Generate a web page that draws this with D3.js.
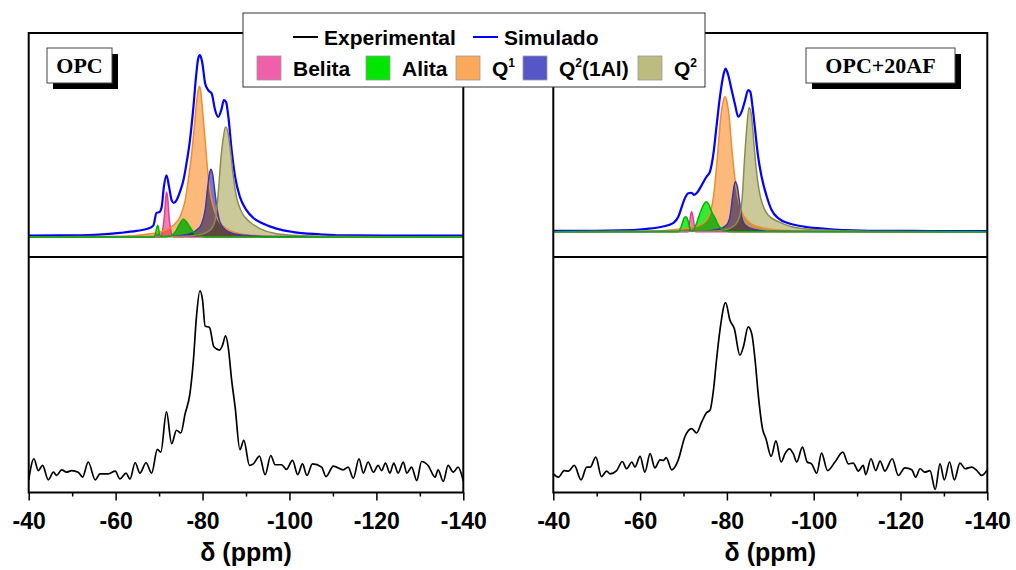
<!DOCTYPE html>
<html>
<head>
<meta charset="utf-8">
<script src="https://cdn.jsdelivr.net/npm/d3@7/dist/d3.min.js"></script>
<style>
  html, body { margin: 0; padding: 0; background: #ffffff; }
  svg { display: block; }
  .tick text { font-family: "Liberation Sans", Arial, sans-serif; font-weight: bold; font-size: 23px; fill: #000; }
</style>
</head>
<body>
<svg id="chart" width="1016" height="570"></svg>
<script>
// 29Si MAS-NMR spectra: OPC and OPC+20AF, deconvolution (top) and experimental (bottom)

const majorTicks = [-40, -60, -80, -100, -120, -140];
const minorTicks = [-50, -70, -90, -110, -130];
const panelNames = ["OPC", "OPC+20AF"];
const axisTitle = "δ (ppm)";
const componentNames = ["Belita", "Alita", "Q1", "Q2(1Al)", "Q2"];
const componentColors = ["#f060a8", "#00e600", "#faa85a", "#5656c6", "#bcbc80"];
const componentEdges = ["#e0408e", "#00b400", "#f08c30", "#3a3aa8", "#8c8c50"];

// ---- OPC: simulated envelope and fitted components [ppm, intensity]
const opcSim = [[-40,0.8],[-51.8,0.9],[-61.0,2.2],[-64.8,3.3],[-67.5,4.6],[-68.7,6.4],[-69.4,13.2],[-70.1,13.7],[-70.6,16.5],[-71.1,27.5],[-71.7,33.9],[-72.3,27.5],[-72.9,20.1],[-73.4,18.7],[-74.0,20.1],[-74.8,24.7],[-75.6,31.1],[-76.3,40.3],[-77.1,53.1],[-77.9,71.4],[-78.5,87.9],[-79.0,98.0],[-79.4,99.8],[-79.9,96.2],[-80.6,84.3],[-81.3,80.6],[-82.1,78.8],[-82.9,69.6],[-83.6,65.9],[-84.4,70.5],[-84.9,75.1],[-85.4,74.2],[-85.9,66.9],[-86.7,47.6],[-87.5,33.0],[-88.6,22.0],[-90.1,14.7],[-91.7,10.4],[-94.0,7.3],[-97.0,4.6],[-100.9,2.7],[-107.0,1.5],[-111.6,0.9],[-122.4,0.8],[-140,0.8]];
const opcBelita = [[-40,0],[-70.2,0],[-70.8,3.6],[-71.2,11.0],[-71.5,20.1],[-71.7,24.7],[-72.0,21.1],[-72.3,11.0],[-72.7,3.6],[-73.3,0],[-140,0]];
const opcAlita = [[-40,0],[-68.7,0],[-69.2,1.8],[-69.4,4.6],[-69.7,6.4],[-69.9,4.6],[-70.2,0.9],[-70.6,0],[-72.5,0.4],[-73.7,2.7],[-74.7,7.0],[-75.6,9.7],[-76.3,8.2],[-77.1,5.5],[-77.9,2.7],[-79.0,0.9],[-80.9,0],[-140,0]];
const opcQ1 = [[-40,0],[-61.0,0.4],[-67.1,1.5],[-71.0,3.3],[-73.3,6.4],[-74.8,11.0],[-76.0,20.1],[-76.7,31.1],[-77.5,45.8],[-78.1,60.4],[-78.6,73.3],[-79.0,80.6],[-79.3,82.8],[-79.6,79.7],[-80.0,69.6],[-80.6,53.1],[-81.1,38.5],[-81.7,25.6],[-82.5,16.5],[-83.6,9.2],[-85.5,4.6],[-88.6,1.8],[-93.2,0.7],[-99.3,0.2],[-140,0]];
const opcQ2Al = [[-40,0],[-72.5,0.2],[-76.3,1.3],[-78.6,3.7],[-79.8,7.3],[-80.6,14.7],[-81.2,27.5],[-81.6,34.8],[-81.9,37.2],[-82.3,34.8],[-82.8,25.6],[-83.4,14.7],[-84.0,8.2],[-85.2,4.0],[-87.1,1.8],[-90.9,0.7],[-96.3,0.2],[-140,0]];
const opcQ2 = [[-40,0],[-74.8,0.2],[-79.4,1.3],[-81.7,3.7],[-82.9,9.2],[-83.6,23.8],[-84.2,42.1],[-84.8,54.9],[-85.3,60.4],[-85.9,56.8],[-86.5,45.8],[-87.1,33.0],[-87.8,22.0],[-89.0,13.7],[-90.9,8.2],[-93.2,4.6],[-97.0,1.8],[-103.2,0.7],[-111.6,0.2],[-140,0]];
const opcExp = [[-40,-4.2],[-41.2,7.4],[-42.2,0.9],[-43.2,3.7],[-44.5,-4.2],[-45.7,0.0],[-46.4,-1.8],[-47.6,1.3],[-48.7,0],[-49.9,0.9],[-51.4,0],[-52.4,-2.7],[-53.7,5.6],[-55.3,-4.2],[-56.4,-0.9],[-58.3,-0.9],[-59.9,0.6],[-61.0,-3.7],[-62.4,-0.5],[-63.3,-3.8],[-64.5,5.2],[-65.6,-0.5],[-67.0,5.2],[-68.3,-0.5],[-69.6,12.6],[-70.4,11.1],[-71.7,33.2],[-72.9,15.7],[-74.0,23.1],[-75.0,21.6],[-76.0,32.3],[-77.1,43.3],[-77.9,61.7],[-78.6,85.7],[-79.4,100.0],[-80.0,94.9],[-80.6,80.5],[-81.6,79.8],[-82.6,69.1],[-83.9,67.3],[-84.6,70.0],[-85.3,75.2],[-85.9,69.1],[-86.7,50.7],[-87.5,35.9],[-88.6,12.4],[-89.5,17.5],[-90.8,3.7],[-91.7,4.6],[-93.1,8.9],[-94.4,-1.4],[-95.7,9.2],[-96.7,4.1],[-98.2,4.1],[-99.3,1.5],[-100.7,6.5],[-101.9,-1.3],[-103.0,4.6],[-104.0,-1.8],[-105.3,4.6],[-107.4,2.8],[-108.4,-2.4],[-110.1,3.3],[-112.4,1.3],[-113.5,2.8],[-114.7,-3.3],[-116.0,7.4],[-117.0,-0.5],[-118.1,5.6],[-119.3,0],[-120.4,3.7],[-121.2,0.9],[-122.1,5.0],[-123.1,-0.5],[-124.0,5.0],[-125.0,-0.5],[-126.2,5.6],[-127.0,-0.5],[-128.1,2.8],[-129.3,-4.6],[-130.4,5.9],[-131.9,3.7],[-133.5,-2.7],[-134.2,1.3],[-135.4,-5.1],[-136.5,3.7],[-137.7,0],[-138.8,2.8],[-140,-4.9]];

// ---- OPC+20AF: simulated envelope and fitted components [ppm, intensity]
const afSim = [[-40,0.5],[-49.6,0.5],[-55.8,0.7],[-61.1,1.5],[-65.0,2.7],[-67.7,4.9],[-68.8,8.2],[-69.6,13.7],[-70.3,18.3],[-71.1,21.1],[-71.9,21.4],[-72.4,20.2],[-73.0,21.1],[-74.2,25.6],[-75.3,30.2],[-76.1,33.0],[-76.9,43.0],[-77.6,57.7],[-78.4,74.2],[-79.2,86.1],[-79.7,89.7],[-80.3,86.1],[-81.1,77.8],[-81.9,69.6],[-82.6,63.2],[-83.4,66.0],[-84.2,72.3],[-84.9,77.8],[-85.4,76.9],[-85.9,68.7],[-86.5,55.9],[-87.2,41.2],[-88.0,30.2],[-89.2,19.2],[-90.3,11.9],[-91.9,7.3],[-94.2,4.6],[-98.0,2.7],[-103.4,1.5],[-107.2,0.9],[-114.9,0.5],[-127.2,0.4],[-140,0.3]];
const afBelita = [[-40,0],[-71.0,0],[-71.35,3.7],[-71.65,9.2],[-71.9,11.0],[-72.1,9.2],[-72.4,4.6],[-72.8,0],[-140,0]];
const afAlita = [[-40,0],[-68.8,0],[-69.6,3.7],[-70.1,7.3],[-70.5,8.2],[-71.0,6.4],[-71.5,1.8],[-72.0,0.3],[-72.3,0.9],[-73.0,4.6],[-73.8,10.1],[-74.6,14.7],[-75.2,16.5],[-75.7,15.6],[-76.5,11.0],[-77.3,7.3],[-78.0,3.7],[-79.2,0.9],[-80.7,0],[-140,0]];
const afQ1 = [[-40,0],[-61.1,0.2],[-68.8,1.3],[-72.7,2.7],[-75.0,5.5],[-76.1,10.1],[-76.9,19.2],[-77.4,30.2],[-78.0,46.7],[-78.6,63.2],[-79.2,72.3],[-79.6,74.2],[-80.0,71.4],[-80.6,61.4],[-81.1,46.7],[-81.7,32.1],[-82.5,19.2],[-83.4,11.0],[-85.0,5.5],[-87.2,2.7],[-91.9,0.9],[-99.5,0.2],[-140,0]];
const afQ2Al = [[-40,0],[-74.2,0.2],[-78.0,1.3],[-79.9,3.7],[-80.7,8.2],[-81.3,19.2],[-81.7,25.6],[-82.0,27.5],[-82.4,24.7],[-82.9,16.5],[-83.4,8.2],[-84.2,3.7],[-86.1,1.3],[-90.3,0.2],[-140,0]];
const afQ2 = [[-40,0],[-76.5,0.2],[-79.9,1.3],[-81.9,3.7],[-82.9,8.2],[-83.6,21.1],[-84.0,37.5],[-84.6,57.7],[-85.1,68.3],[-85.6,65.0],[-86.1,52.2],[-86.7,35.7],[-87.4,22.9],[-88.4,13.7],[-89.5,9.2],[-91.9,5.5],[-94.9,2.7],[-99.5,1.3],[-107.2,0.4],[-114.9,0],[-140,0]];
const afExp = [[-40.0,-0.9],[-41.2,-2.7],[-42.5,0.9],[-43.5,0.6],[-44.85,3.7],[-46.4,-4.2],[-47.7,2.8],[-48.5,2.8],[-49.8,8.3],[-51.1,-2.4],[-52.3,0.6],[-53.1,-0.9],[-54.6,0.9],[-55.9,5.9],[-56.9,1.9],[-58.1,5.6],[-58.8,2.8],[-60.0,8.7],[-61.1,0],[-62.3,10.2],[-63.4,2.4],[-64.6,6.8],[-65.4,6.5],[-66.0,8.0],[-67.3,1.3],[-68.8,6.8],[-70.3,19.4],[-71.9,24.0],[-73.0,21.6],[-74.2,27.7],[-75.3,32.8],[-76.1,34.1],[-76.9,45.2],[-77.6,61.7],[-78.4,78.3],[-79.7,93.4],[-80.7,83.8],[-81.7,79.2],[-83.0,64.5],[-83.8,69.1],[-84.9,80.1],[-85.7,76.5],[-86.5,61.7],[-87.2,43.3],[-88.2,24.0],[-89.0,18.4],[-90.2,8.7],[-91.3,17.2],[-92.5,5.6],[-93.4,10.2],[-94.4,12.9],[-95.3,10.2],[-96.1,5.6],[-97.4,13.8],[-98.5,5.6],[-99.5,4.6],[-100.7,-0.5],[-101.8,10.5],[-103.2,0.9],[-104.9,5.6],[-106.7,11.1],[-108.0,4.6],[-109.1,5.0],[-110.3,0.6],[-111.4,3.7],[-112.0,-1.3],[-113.2,7.4],[-114.3,0.9],[-115.3,6.1],[-116.4,0.6],[-118.1,7.4],[-119.5,-1.8],[-121.0,2.4],[-122.6,1.3],[-123.5,-2.7],[-124.5,1.9],[-125.6,0],[-126.8,0.9],[-128.0,-9.5],[-129.1,4.6],[-130.1,-4.2],[-131.3,5.6],[-132.4,-4.2],[-133.7,5.0],[-134.9,1.9],[-136.4,2.8],[-137.6,0.9],[-138.7,-1.8],[-139.9,0.9]];

const panels = [
  { name: panelNames[0], x0: 28.7, x1: 463.3, topDomain: [-11, 112],
    sim: opcSim, comps: [opcBelita, opcAlita, opcQ1, opcQ2Al, opcQ2], exp: opcExp,
    label: { x: 47, w: 65 } },
  { name: panelNames[1], x0: 553.3, x1: 987.3, topDomain: [-13.9, 109.2],
    sim: afSim, comps: [afBelita, afAlita, afQ1, afQ2Al, afQ2], exp: afExp,
    label: { x: 806, w: 149 } }
];

const yTop0 = 33, ySplit = 257, yBot = 492.5;
const bottomDomain = [-11.2, 118.6];

const svg = d3.select("#chart");
const defs = svg.append("defs");

panels.forEach((p, i) => {
  const x = d3.scaleLinear().domain([-40, -140]).range([p.x0, p.x1]);
  const yT = d3.scaleLinear().domain(p.topDomain).range([ySplit, yTop0]);
  const yB = d3.scaleLinear().domain(bottomDomain).range([yBot, ySplit]);

  defs.append("clipPath").attr("id", "clipT" + i)
    .append("rect").attr("x", p.x0).attr("y", yTop0).attr("width", p.x1 - p.x0).attr("height", ySplit - yTop0);
  defs.append("clipPath").attr("id", "clipB" + i)
    .append("rect").attr("x", p.x0).attr("y", ySplit).attr("width", p.x1 - p.x0).attr("height", yBot - ySplit);

  const g = svg.append("g");

  // deconvoluted components
  const top = g.append("g").attr("clip-path", `url(#clipT${i})`);
  const area = d3.area().x(d => x(d[0])).y0(yT(0)).y1(d => yT(d[1])).curve(d3.curveMonotoneX);
  const line = d3.line().x(d => x(d[0])).y(d => yT(d[1])).curve(d3.curveMonotoneX);

  top.append("path").datum(p.sim)
    .attr("d", line).attr("fill", "none").attr("stroke", "#0000ff").attr("stroke-width", 2.2);

  const fills = top.append("g");
  p.comps.forEach((c, k) => {
    fills.append("path").datum(c)
      .attr("d", area)
      .attr("fill", componentColors[k])
      .attr("fill-opacity", 0.8)
      .style("mix-blend-mode", "multiply");
  });
  [0, 2, 3, 4, 1].forEach(k => {
    top.append("path").datum(p.comps[k])
      .attr("d", line).attr("fill", "none")
      .attr("stroke", componentEdges[k]).attr("stroke-width", 1.5);
  });

  // experimental spectrum
  const bot = g.append("g").attr("clip-path", `url(#clipB${i})`);
  bot.append("path").datum(p.exp)
    .attr("d", d3.line().x(d => x(d[0])).y(d => yB(d[1])).curve(d3.curveMonotoneX))
    .attr("fill", "none").attr("stroke", "#000").attr("stroke-width", 1.7);

  // frame
  g.append("rect").attr("x", p.x0).attr("y", yTop0).attr("width", p.x1 - p.x0).attr("height", yBot - yTop0)
    .attr("fill", "none").attr("stroke", "#000").attr("stroke-width", 2);
  g.append("line").attr("x1", p.x0).attr("x2", p.x1).attr("y1", ySplit).attr("y2", ySplit)
    .attr("stroke", "#000").attr("stroke-width", 2);

  // x axis
  const ax = g.append("g").attr("transform", `translate(0,${yBot})`)
    .call(d3.axisBottom(x).tickValues(majorTicks).tickSize(8).tickPadding(12.5).tickFormat(d => String(d)));
  ax.select(".domain").remove();
  ax.selectAll(".tick line").attr("stroke", "#000").attr("stroke-width", 1.5);
  ax.selectAll(".tick text").attr("dy", "0.71em");
  const axm = g.append("g").attr("transform", `translate(0,${yBot})`)
    .call(d3.axisBottom(x).tickValues(minorTicks).tickSize(4).tickFormat(""));
  axm.select(".domain").remove();
  axm.selectAll(".tick line").attr("stroke", "#000").attr("stroke-width", 1.5);

  g.append("text")
    .attr("x", (p.x0 + p.x1) / 2).attr("y", 561)
    .attr("text-anchor", "middle")
    .style("font-family", "'Liberation Sans', Arial, sans-serif")
    .style("font-weight", "bold").style("font-size", "25px")
    .text(axisTitle);

  // sample label with drop shadow
  const lb = p.label;
  g.append("rect").attr("x", lb.x + 6).attr("y", 54).attr("width", lb.w).attr("height", 35).attr("fill", "#000");
  g.append("rect").attr("x", lb.x).attr("y", 48).attr("width", lb.w).attr("height", 35)
    .attr("fill", "#fff").attr("stroke", "#444").attr("stroke-width", 1);
  g.append("text").attr("x", lb.x + lb.w / 2).attr("y", 73)
    .attr("text-anchor", "middle")
    .style("font-family", "'Liberation Serif', 'Times New Roman', serif")
    .style("font-weight", "bold").style("font-size", "22px")
    .text(p.name);
});

// legend
const leg = svg.append("g");
leg.append("rect").attr("x", 243).attr("y", 13).attr("width", 462).attr("height", 74)
  .attr("fill", "#fff").attr("stroke", "#333").attr("stroke-width", 1);

const legFont = "'Liberation Sans', Arial, sans-serif";
const lineItems = [
  { label: "Experimental", color: "#000", x: 293 },
  { label: "Simulado", color: "#0000ff", x: 473 }
];
lineItems.forEach(it => {
  leg.append("line").attr("x1", it.x).attr("x2", it.x + 25).attr("y1", 37).attr("y2", 37)
    .attr("stroke", it.color).attr("stroke-width", 2);
  leg.append("text").attr("x", it.x + 31).attr("y", 45)
    .style("font-family", legFont).style("font-weight", "bold").style("font-size", "21px")
    .text(it.label);
});

const swatchX = [257, 366, 456, 523, 638];
componentNames.forEach((name, k) => {
  leg.append("rect").attr("x", swatchX[k]).attr("y", 56).attr("width", 24).attr("height", 24)
    .attr("fill", componentColors[k]).attr("stroke", "#999").attr("stroke-width", 0.8);
  const t = leg.append("text").attr("x", swatchX[k] + 36).attr("y", 76)
    .style("font-family", legFont).style("font-weight", "bold").style("font-size", "21px");
  const m = name.match(/^Q(\d)(.*)$/);
  if (m) {
    t.append("tspan").text("Q");
    t.append("tspan").attr("dy", -9).style("font-size", "12px").text(m[1]);
    if (m[2]) t.append("tspan").attr("dy", 9).text(m[2]);
  } else {
    t.text(name);
  }
});
</script>
</body>
</html>
